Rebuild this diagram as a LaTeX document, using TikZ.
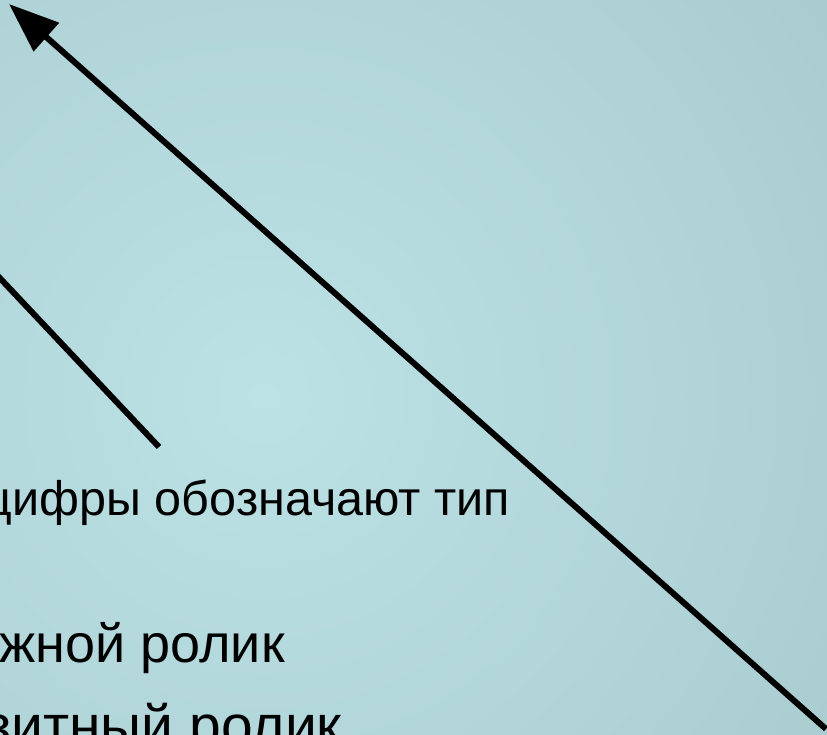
\documentclass[tikz,border=0pt]{standalone}
\usepackage{fontspec}
\setmainfont{Liberation Sans}
\usetikzlibrary{arrows.meta,positioning}
\definecolor{bgin}{RGB}{188,226,230}
\definecolor{bgout}{RGB}{150,181,184}
\pgfdeclareradialshading{bgglow}{\pgfpoint{0bp}{0bp}}{color(0bp)=(bgin); color(50bp)=(bgout)}
\tikzset{
  pointer/.style={line width=6pt,line join=miter,-{Triangle[length=50pt,width=37pt]}},
  lead/.style={line width=6pt},
  lbl/.style={inner sep=0pt,font=\fontsize{54}{58}\selectfont},
  lblsmall/.style={inner sep=0pt,font=\fontsize{48.5}{52}\selectfont},
}
\begin{document}
\begin{tikzpicture}[x=1pt,y=-1pt]
    \useasboundingbox (0,0) rectangle (827,735);
    \clip (0,0) rectangle (827,735);
    % ---- background glow ----
    \shade[shading=bgglow] (264,397) circle (700);
    % ---- labels, cut at the left edge ----
    \node[lblsmall,anchor=base east] (type) at (510,515) {цифры обозначают тип};
    \node[lbl,anchor=base east] (roll1) at (285,662) {жной ролик};
    \node[lbl,anchor=base east,font=\fontsize{57}{60}\selectfont] (roll2) at (342,745) {зитный ролик};
    % ---- connectors ----
    \coordinate (leadA) at (-20,257);
    \coordinate (leadB) at (159,447);
    \draw[lead] (leadA) -- (leadB);
    \coordinate (tail) at (826,729);
    \coordinate (tip) at (9,4);
    \draw[pointer] (tail) -- (tip);
\end{tikzpicture}
\end{document}
